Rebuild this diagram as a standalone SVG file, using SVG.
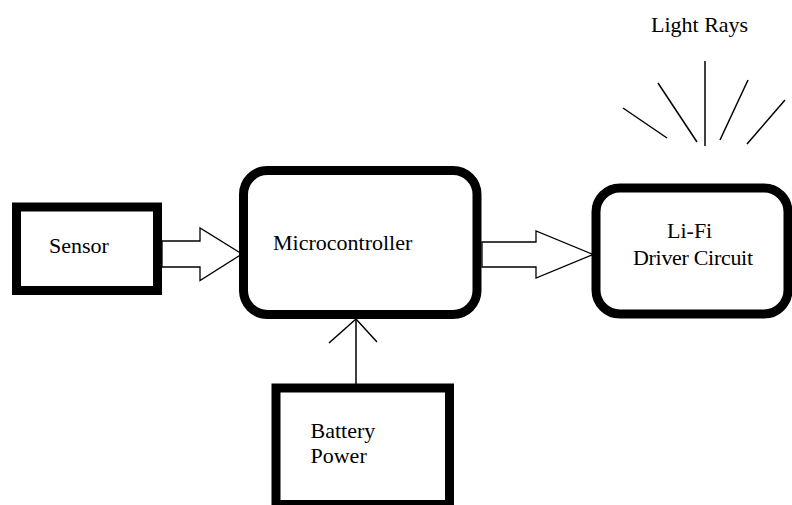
<svg xmlns="http://www.w3.org/2000/svg" width="792" height="505" viewBox="0 0 792 505">
<style>
.box{fill:#fff;stroke:#000;stroke-width:9}
.t{font-family:"Liberation Serif","Times New Roman",serif;font-size:22px;fill:#000}
.ln{stroke:#000;stroke-width:1.5;fill:none}
.blk{fill:#fff;stroke:#000;stroke-width:1.3}
</style>
<rect width="792" height="505" fill="#fff"/>
<g id="connectors">
<polygon class="blk" points="162,241 200,241 200,228 242,254 200,280.5 200,267 162,267"/>
<polygon class="blk" points="482,242 536,242 536,231 593,254.5 536,278 536,267 482,267"/>
<line class="ln" x1="356" y1="319" x2="356" y2="384"/>
<polyline class="ln" points="329,343 356,319 377,342"/>
</g>
<g id="sensor">
<rect class="box" x="16.5" y="207" width="141" height="83.5"/>
<text class="t" x="49" y="252.5">Sensor</text>
</g>
<g id="microcontroller">
<rect class="box" x="243.5" y="170.5" width="233.5" height="144" rx="24" ry="24"/>
<text class="t" x="273" y="250">Microcontroller</text>
</g>
<g id="lifi">
<rect class="box" x="596" y="188" width="192" height="126" rx="24" ry="24"/>
<text class="t" x="667" y="238">Li-Fi</text>
<text class="t" x="633" y="265" textLength="120">Driver Circuit</text>
</g>
<g id="battery">
<rect class="box" x="276" y="388" width="173.5" height="116.5"/>
<text class="t" x="310.5" y="438">Battery</text>
<text class="t" x="310.5" y="463">Power</text>
</g>
<g id="light-rays">
<text class="t" x="651" y="31.5">Light Rays</text>
<line class="ln" x1="705" y1="61" x2="705" y2="146"/>
<line class="ln" x1="658" y1="83" x2="697" y2="142"/>
<line class="ln" x1="623" y1="108" x2="667" y2="138"/>
<line class="ln" x1="748" y1="80" x2="720" y2="140"/>
<line class="ln" x1="785" y1="100" x2="747" y2="144"/>
</g>
</svg>
